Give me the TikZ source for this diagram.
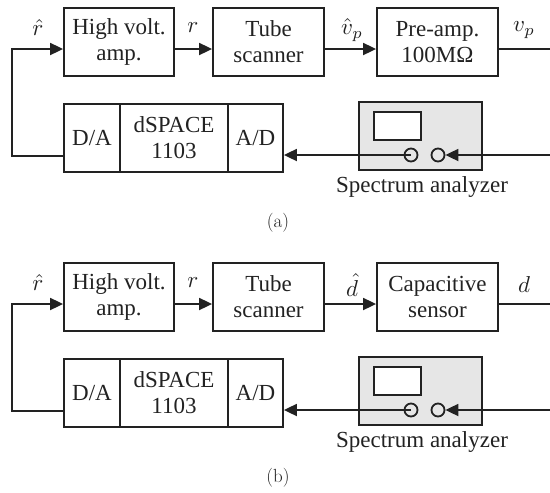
\documentclass[tikz,border=0pt]{standalone}
\usepackage[no-math]{fontspec}
\setmainfont{Liberation Serif}
\newfontfamily\lmfont{Latin Modern Roman}
\usetikzlibrary{arrows.meta,calc}
\definecolor{ink}{HTML}{222222}
\definecolor{panelgray}{HTML}{E6E6E6}
\tikzset{
 blk/.style={draw=ink, line width=1.8pt, minimum height=68pt, inner sep=0pt, align=center, text=ink, font=\fontsize{23}{26}\selectfont},
 wire/.style={draw=ink, line width=1.8pt},
 arr/.style={wire, -{Triangle[length=13pt,width=12pt]}},
 lbl/.style={text=ink, font=\fontsize{23}{26}\selectfont, inner sep=0pt},
 mlbl/.style={text=ink, font=\fontsize{10}{12}\selectfont, inner sep=0pt, scale=2.3},
 sublabel/.style={text=ink, font=\lmfont\fontsize{19}{22}\selectfont, inner sep=0pt},
 knob/.style={circle, draw=ink, fill=panelgray, line width=1.8pt, minimum size=13pt, inner sep=0pt},
}
\newcommand\drawpanel[6]{%
 \begin{scope}[shift={(0,#2)}]
  \coordinate (#1ya) at (0,49);
  \coordinate (#1yb) at (0,155);
  \coordinate (#1yf) at (0,156);
  \coordinate (#1fb) at (12,0);
  \coordinate (#1re) at (550,0);
  \node[blk, minimum width=110pt] (#1hva) at (119,42) {High volt.\\amp.};
  \node[blk, minimum width=111pt] (#1tube) at (268.5,42) {Tube\\scanner};
  \node[blk, minimum width=121pt] (#1pre) at (437.5,42) {#3};
  \node[blk, minimum width=56pt] (#1DA) at (92,138) {D/A};
  \node[blk, minimum width=108pt] (#1ds) at (174,138) {dSPACE\\1103};
  \node[blk, minimum width=55pt] (#1AD) at (255.5,138) {A/D};
  \node[blk, fill=panelgray, minimum width=123pt] (#1SA) at (420.5,136) {};
  \node[draw=ink, fill=white, line width=1.8pt, minimum width=47pt, minimum height=28pt, inner sep=0pt] (#1scr) at (397.5,126) {};
  \node[knob] (#1ca) at (411,155) {};
  \node[knob] (#1cb) at (438,155) {};
  \draw[arr] (#1DA.west |- #1yf) -| (#1fb |- #1ya) -- (#1hva.west |- #1ya);
  \draw[arr] (#1hva.east |- #1ya) -- (#1tube.west |- #1ya);
  \draw[arr] (#1tube.east |- #1ya) -- (#1pre.west |- #1ya);
  \draw[wire] (#1pre.east |- #1ya) -- (#1re |- #1ya);
  \draw[arr] (#1re |- #1yb) -- (#1cb.east);
  \draw[arr] (#1ca.center) -- (#1AD.east |- #1yb);
  \node[mlbl] (#1lr) at (38,28) {$\hat{r}$};
  \node[mlbl] (#1lrr) at (193,28) {$r$};
  \node[mlbl] (#1lin) at (352,30) {#4};
  \node[mlbl] (#1lout) at (524,30) {#5};
  \node[lbl] (#1lsa) at (422,187) {Spectrum analyzer};
  \node[sublabel] (#1sub) at (278,223) {#6};
 \end{scope}}
\begin{document}
\begin{tikzpicture}[x=1pt,y=-1pt]
\useasboundingbox (0,0) rectangle (550,493);
\drawpanel{a}{0}{Pre-amp.\\100MΩ}{$\hat{v}_p$}{$v_p$}{(a)}
\drawpanel{b}{255}{Capacitive\\sensor}{$\hat{d}$}{$d$}{(b)}
\end{tikzpicture}
\end{document}
